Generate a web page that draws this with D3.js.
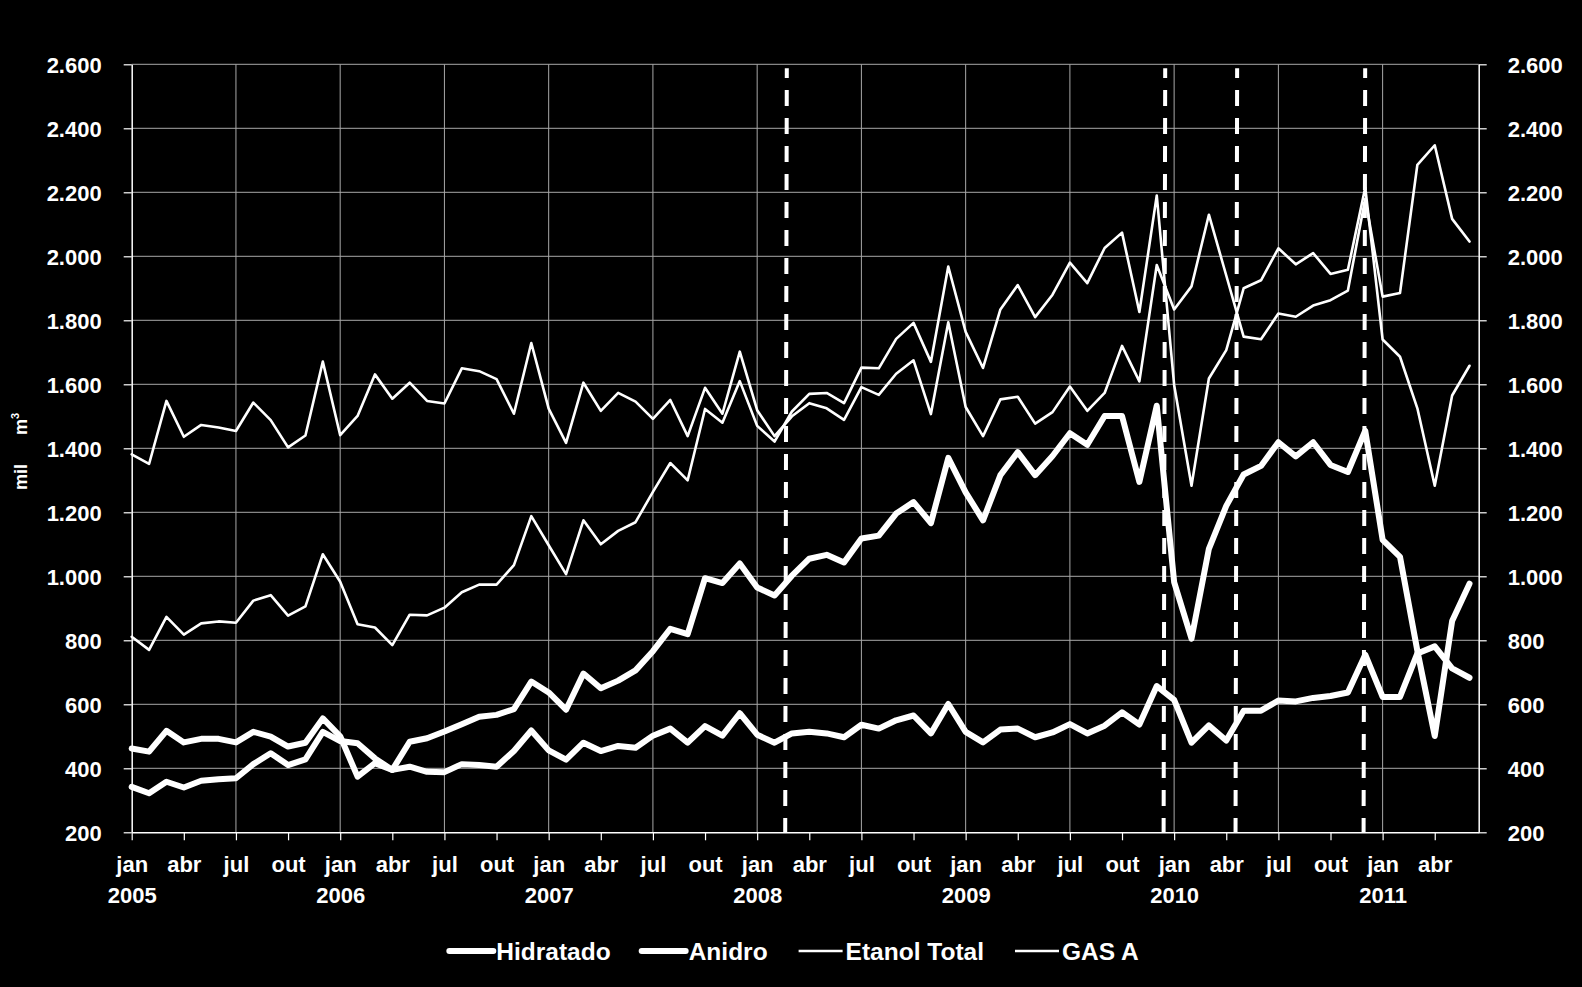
<!DOCTYPE html>
<html><head><meta charset="utf-8">
<script src="https://cdn.jsdelivr.net/npm/d3@7"></script>
<style>html,body{margin:0;padding:0;background:#000;} svg{display:block;}</style>
</head><body>
<script>
// ---- data (monthly, jan 2005 .. jun 2011), mil m3 ----
const hidratado = [342,322,358,340,361,366,369,413,447,410,428,514,
  485,478,431,395,483,494,515,538,561,567,585,671,
  637,583,696,650,674,706,766,836,819,994,979,1040,
  965,940,1002,1055,1067,1043,1118,1127,1196,1232,1166,1370,
  1262,1175,1316,1388,1316,1376,1447,1411,1501,1501,1295,1533,
  982,805,1086,1220,1318,1345,1419,1375,1419,1348,1326,1455,
  1114,1061,767,501,860,977];
const anidro = [462,452,517,481,492,492,481,514,499,468,480,556,
  500,374,416,395,405,389,388,413,410,405,454,518,
  456,427,480,454,470,464,502,524,480,532,502,572,
  505,480,509,514,509,497,536,524,550,565,509,601,
  514,481,521,524,497,512,538,509,533,575,537,657,
  614,480,534,487,580,580,612,609,620,626,637,755,
  623,623,759,781,712,683];
const etanolTotal = [811,770,873,818,853,859,855,924,941,877,906,1069,
  983,850,840,785,880,878,902,950,974,974,1035,1188,
  1097,1007,1175,1100,1142,1169,1264,1354,1300,1523,1480,1610,
  1470,1421,1515,1570,1573,1541,1652,1650,1742,1792,1670,1968,
  1764,1651,1834,1910,1810,1880,1980,1916,2026,2074,1826,2190,
  1598,1283,1618,1707,1900,1925,2025,1975,2010,1945,1958,2215,
  1740,1686,1525,1283,1565,1658];
const gasA = [1381,1351,1548,1436,1473,1465,1454,1543,1488,1403,1440,1671,
  1441,1501,1631,1555,1605,1548,1540,1650,1641,1616,1508,1729,
  1524,1417,1605,1517,1573,1546,1492,1551,1438,1589,1508,1702,
  1519,1438,1500,1541,1525,1489,1591,1567,1633,1675,1507,1794,
  1529,1438,1553,1561,1477,1513,1593,1517,1573,1720,1609,1973,
  1834,1906,2130,1940,1749,1741,1821,1811,1846,1863,1893,2180,
  1874,1885,2286,2347,2117,2046];
const quarterLabels = ["jan","abr","jul","out"];
const yearLabels = ["2005","2006","2007","2008","2009","2010","2011"];
const yTicks = [200,400,600,800,1000,1200,1400,1600,1800,2000,2200,2400,2600];
const markerMonths = [37.66, 59.44, 63.58, 70.95];
const seriesNames = ["Hidratado","Anidro","Etanol Total","GAS A"];

const W = 1582, H = 987;
const svg = d3.select("body").append("svg").attr("width", W).attr("height", H)
  .style("background", "#000");
svg.append("rect").attr("width", W).attr("height", H).attr("fill", "#000");

const x = d3.scaleLinear().domain([0, 77.53]).range([131.7, 1478.7]);
const y = d3.scaleLinear().domain([200, 2600]).range([832.3, 64.3]);
const fmt = d3.formatLocale({decimal: ",", thousands: ".", grouping: [3], currency: ["", ""]}).format(",");
const FONT = "'Liberation Sans', Arial, sans-serif";

// gridlines
const grid = svg.append("g");
grid.selectAll("line.h").data(yTicks.filter(v => v > 200)).join("line")
  .attr("x1", x.range()[0]).attr("x2", x.range()[1])
  .attr("y1", d => y(d)).attr("y2", d => y(d))
  .attr("stroke", "#a8a8a8").attr("stroke-width", 1);
grid.selectAll("line.v").data(d3.range(6, 78, 6)).join("line")
  .attr("x1", d => x(d)).attr("x2", d => x(d))
  .attr("y1", y(2600)).attr("y2", y(200))
  .attr("stroke", "#a8a8a8").attr("stroke-width", 1);

// axes
function styleAxis(g) {
  g.selectAll("path.domain").attr("stroke", "#fff").attr("stroke-width", 1.5);
  g.selectAll(".tick line").attr("stroke", "#fff").attr("stroke-width", 1.2);
  g.selectAll("text").attr("fill", "#fff").attr("font-family", FONT)
    .attr("font-weight", "bold").attr("font-size", 22);
}
const gl = svg.append("g").attr("transform", `translate(${x.range()[0]},0)`)
  .call(d3.axisLeft(y).tickValues(yTicks).tickSize(8).tickSizeOuter(0).tickPadding(22).tickFormat(fmt));
styleAxis(gl); gl.selectAll("text").attr("dy", "0.36em");
const gr = svg.append("g").attr("transform", `translate(${x.range()[1]},0)`)
  .call(d3.axisRight(y).tickValues(yTicks).tickSize(8).tickSizeOuter(0).tickPadding(21).tickFormat(fmt));
styleAxis(gr); gr.selectAll("text").attr("dy", "0.36em");
const gb = svg.append("g").attr("transform", `translate(0,${y(200)})`)
  .call(d3.axisBottom(x).tickValues(d3.range(0, 76, 3)).tickSize(8).tickSizeOuter(0)
    .tickFormat(m => quarterLabels[(m / 3) % 4]));
styleAxis(gb);
gb.selectAll(".tick text").attr("y", 39.4).attr("dy", 0);
gb.selectAll(".tick").filter(m => m % 12 === 0).append("text")
  .attr("y", 71).attr("text-anchor", "middle")
  .attr("fill", "#fff").attr("font-family", FONT).attr("font-weight", "bold").attr("font-size", 22)
  .text(m => yearLabels[m / 12]);

// y title
const yt = svg.append("g").attr("font-family", FONT).attr("font-weight", "bold").attr("fill", "#fff");
yt.append("text").attr("transform", "translate(27,490) rotate(-90)").attr("font-size", 18).text("mil");
const t2 = yt.append("text").attr("transform", "translate(27,435) rotate(-90)").attr("font-size", 18);
t2.append("tspan").text("m");
t2.append("tspan").attr("font-size", 11).attr("dy", -8).text("3");

// series
const line = d3.line().x((d, i) => x(i)).y(d => y(d));
const series = [
  {name: seriesNames[0], values: hidratado, w: 6},
  {name: seriesNames[1], values: anidro, w: 6},
  {name: seriesNames[2], values: etanolTotal, w: 2.6},
  {name: seriesNames[3], values: gasA, w: 2.6}
];
svg.append("g").selectAll("path").data(series).join("path")
  .attr("d", d => line(d.values)).attr("fill", "none").attr("stroke", "#fff")
  .attr("stroke-width", d => d.w).attr("stroke-linejoin", "round").attr("stroke-linecap", "round");

// dashed markers
svg.append("g").selectAll("line").data(markerMonths).join("line")
  .attr("x1", d => x(d) + 0.8).attr("x2", d => x(d) - 0.8)
  .attr("y1", 68.3).attr("y2", y(200))
  .attr("stroke", "#fff").attr("stroke-width", 4)
  .attr("stroke-dasharray", "16,12").attr("stroke-dashoffset", 6.3);

// legend
const lg = svg.append("g").attr("font-family", FONT).attr("font-weight", "bold").attr("font-size", 24.5);
const items = lg.selectAll("g").data(series).join("g");
items.append("line").attr("x1", 0).attr("x2", 44).attr("y1", 0).attr("y2", 0)
  .attr("stroke", "#fff").attr("stroke-width", d => d.w).attr("stroke-linecap", d => d.w > 3 ? "round" : "butt");
items.append("text").attr("x", 47).attr("y", 9).attr("fill", "#fff").text(d => d.name);
let cx = 0; const offs = [];
items.each(function () {
  offs.push(cx);
  const tw = d3.select(this).select("text").node().getComputedTextLength();
  cx += 47 + tw + 31;
});
const total = cx - 31;
const start = 794 - total / 2;
items.attr("transform", (d, i) => `translate(${start + offs[i]},951)`);
</script>
</body></html>
